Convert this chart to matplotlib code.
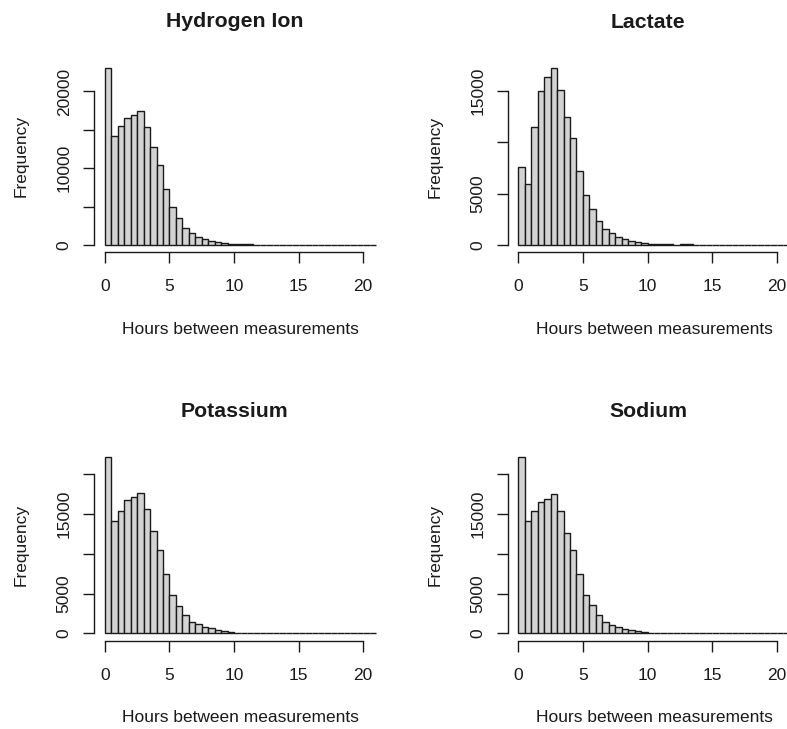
import matplotlib

matplotlib.use("Agg")
import matplotlib.pyplot as plt
import numpy as np

plt.rcParams["font.family"] = ["Liberation Sans", "DejaVu Sans"]

# half-hour bins from 0 to 21 h
bin_edges = np.arange(0, 21.5, 0.5)

titles = ["Hydrogen Ion", "Lactate", "Potassium", "Sodium"]

hydrogen_counts = [23100, 14250, 15500, 16600, 16900, 17450, 15400, 12800,
                   10450, 7250, 4900, 3540, 2260, 1520, 1060, 740, 540, 350,
                   220, 150, 110, 90, 70] + [0] * 19
lactate_counts = [7610, 5930, 11440, 14970, 16300, 17200, 15100, 12470,
                  10370, 7220, 4860, 3530, 2330, 1520, 1160, 780, 610, 400,
                  290, 230, 110, 90, 80, 70, 0, 110, 100] + [0] * 15
potassium_counts = [22090, 14130, 15350, 16690, 17070, 17570, 15560, 12800,
                    10450, 7400, 4810, 3490, 2320, 1480, 1150, 830, 650, 480,
                    290, 170, 90, 80, 70] + [0] * 19
sodium_counts = [22090, 14130, 15350, 16520, 16860, 17530, 15300, 12630,
                 10400, 7400, 4810, 3550, 2320, 1480, 1110, 820, 590, 430,
                 270, 170, 90, 80, 70] + [0] * 19
counts = [hydrogen_counts, lactate_counts, potassium_counts, sodium_counts]

x_ticks = [0, 5, 10, 15, 20]
y_ticks = [
    [0, 5000, 10000, 15000, 20000],
    [0, 5000, 10000, 15000],
    [0, 5000, 10000, 15000, 20000],
    [0, 5000, 10000, 15000, 20000],
]
# R drops labels that would overlap
y_labels = [
    ["0", "", "10000", "", "20000"],
    ["0", "5000", "", "15000"],
    ["0", "5000", "", "15000", ""],
    ["0", "5000", "", "15000", ""],
]

W, H = 787, 729
# plot regions in pixels: (left, top, right, bottom)
regions = [
    (94, 60.6, 387, 252.1),
    (507.5, 61.0, 800.5, 252.1),
    (94, 450.2, 387, 640.5),
    (507.5, 450.2, 800.5, 640.5),
]

INK = "#1a1a1a"
fig = plt.figure(figsize=(W / 100, H / 100), dpi=100)

for i in range(4):
    l, t, r, b = regions[i]
    ax = fig.add_axes([l / W, 1 - b / H, (r - l) / W, (b - t) / H])
    ax.hist(bin_edges[:-1], bins=bin_edges, weights=counts[i],
            color="#d3d3d3", edgecolor=INK, linewidth=1.0)
    ymax = max(counts[i])
    ax.set_xlim(-0.04 * 21, 21 * 1.04)
    ax.set_ylim(-0.04 * ymax, 1.04 * ymax)

    for side in ("top", "right"):
        ax.spines[side].set_visible(False)
    for side in ("left", "bottom"):
        ax.spines[side].set_color(INK)
        ax.spines[side].set_linewidth(1.0)
    ax.spines["bottom"].set_bounds(x_ticks[0], x_ticks[-1])
    ax.spines["left"].set_bounds(y_ticks[i][0], y_ticks[i][-1])

    ax.set_xticks(x_ticks)
    ax.set_yticks(y_ticks[i], y_labels[i], rotation=90, va="center")
    ax.tick_params(length=8, width=1.0, color=INK, labelcolor=INK,
                   labelsize=12.5)
    ax.tick_params(axis="x", pad=11.5)
    ax.tick_params(axis="y", pad=8)

    ax.set_title(titles[i], fontsize=15.3, fontweight="bold", color=INK,
                 pad=24, x=0.48)
    ax.set_xlabel("Hours between measurements", fontsize=12.5, color=INK,
                  labelpad=20)
    ax.set_ylabel("Frequency", fontsize=12.5, color=INK, labelpad=20)

fig.savefig("out.png", dpi=100)
